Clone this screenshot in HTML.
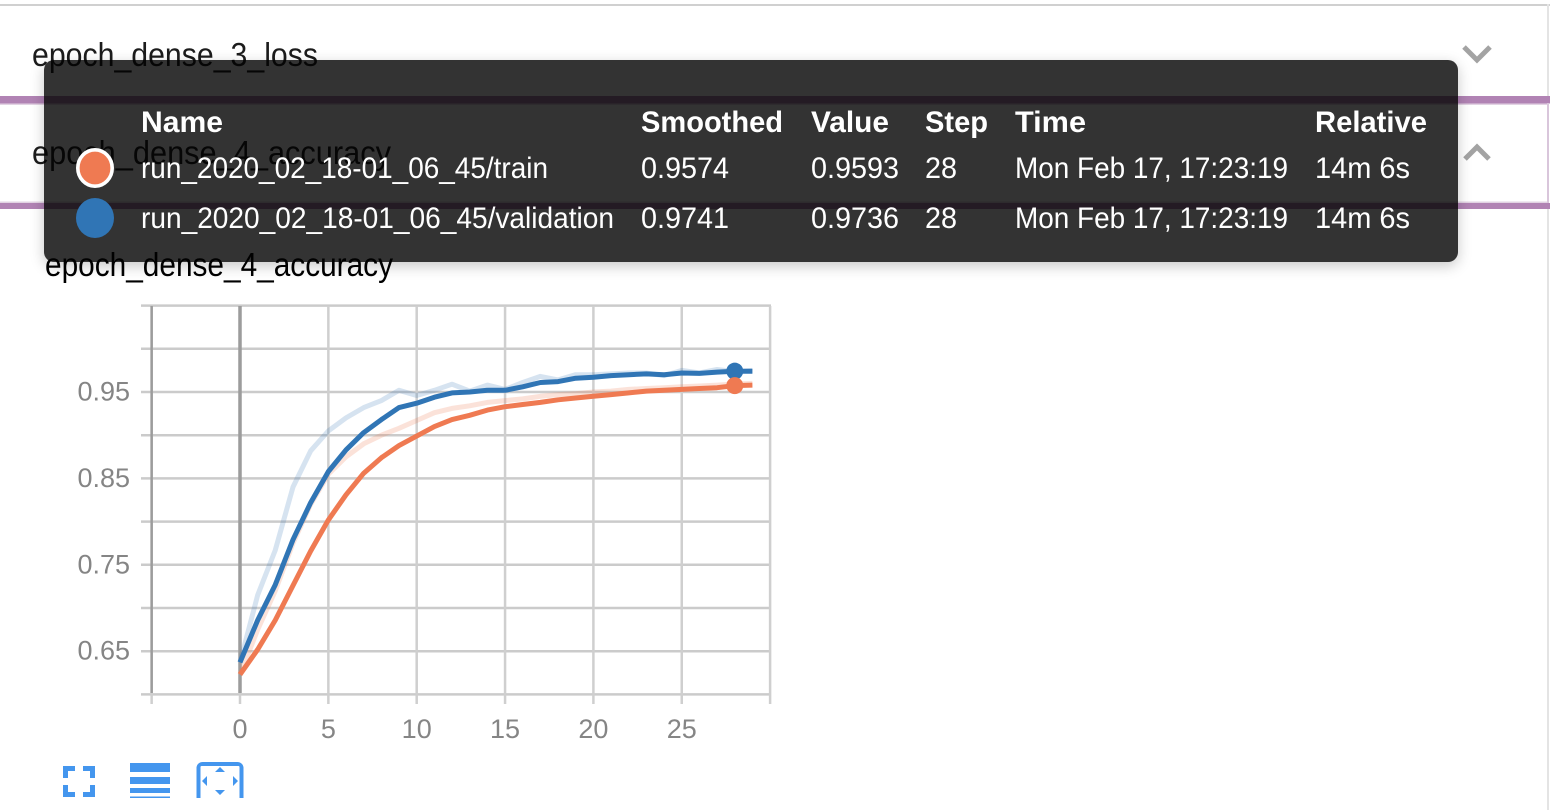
<!DOCTYPE html>
<html lang="en">
<head>
<meta charset="utf-8">
<title>epoch_dense_4_accuracy</title>
<style>
html,body{margin:0;padding:0;width:1550px;height:810px;background:#fff;overflow:hidden}
body{position:relative;font-family:"Liberation Sans",sans-serif}
svg{position:absolute;left:0;top:0;display:block}
#tooltip-bg{position:absolute;left:44px;top:60px;width:1414px;height:202px;border-radius:10px;background:#333;mix-blend-mode:multiply}
#tooltip-shadow{position:absolute;left:44px;top:60px;width:1414px;height:202px;border-radius:10px;box-shadow:0 4px 14px rgba(0,0,0,.22)}
</style>
</head>
<body>
<svg width="1550" height="810">
  <rect x="0" y="4" width="1550" height="2" fill="#d0d0d0"/>
  <rect x="1547" y="4" width="2" height="806" fill="#e4e4e4"/>
  <rect x="0" y="96" width="1550" height="7.500" fill="#b183b4"/>
  <rect x="0" y="203" width="1550" height="6" fill="#b183b4"/>
  <rect x="0" y="103.500" width="1547" height="1.500" fill="#e2d3e3"/>
  <rect x="0" y="201.500" width="1547" height="1.500" fill="#e2d3e3"/>
  <rect x="1547" y="103" width="2" height="100" fill="#d9c6db"/>
  <text x="32" y="66" font-size="33" fill="#1c1c1c" textLength="286" lengthAdjust="spacingAndGlyphs">epoch_dense_3_loss</text>
  <text x="32" y="164" font-size="33" fill="#1c1c1c" textLength="359" lengthAdjust="spacingAndGlyphs">epoch_dense_4_accuracy</text>
  <path d="M1464 47 L1477 60 L1490 47" fill="none" stroke="#a3a3a3" stroke-width="5"/>
  <path d="M1465 159 L1477 147 L1489 159" fill="none" stroke="#a3a3a3" stroke-width="5"/>
</svg>

<div id="tooltip-shadow"></div>
<div id="tooltip-bg"></div>

<svg width="1550" height="810" font-size="29.500" fill="#fff">
  <g font-weight="700">
    <text x="141" y="132" textLength="82" lengthAdjust="spacingAndGlyphs">Name</text>
    <text x="641" y="132" textLength="142" lengthAdjust="spacingAndGlyphs">Smoothed</text>
    <text x="811" y="132" textLength="78" lengthAdjust="spacingAndGlyphs">Value</text>
    <text x="925" y="132" textLength="63" lengthAdjust="spacingAndGlyphs">Step</text>
    <text x="1015" y="132" textLength="71" lengthAdjust="spacingAndGlyphs">Time</text>
    <text x="1315" y="132" textLength="112" lengthAdjust="spacingAndGlyphs">Relative</text>
  </g>
  <ellipse cx="95" cy="168" rx="17.200" ry="18.200" fill="#ef7a52" stroke="#fff" stroke-width="3.600"/>
  <g>
    <text x="141" y="178" textLength="407" lengthAdjust="spacingAndGlyphs">run_2020_02_18-01_06_45/train</text>
    <text x="641" y="178" textLength="88" lengthAdjust="spacingAndGlyphs">0.9574</text>
    <text x="811" y="178" textLength="88" lengthAdjust="spacingAndGlyphs">0.9593</text>
    <text x="925" y="178" textLength="32" lengthAdjust="spacingAndGlyphs">28</text>
    <text x="1015" y="178" textLength="273" lengthAdjust="spacingAndGlyphs">Mon Feb 17, 17:23:19</text>
    <text x="1315" y="178" textLength="95" lengthAdjust="spacingAndGlyphs">14m 6s</text>
  </g>
  <ellipse cx="95" cy="218" rx="19" ry="20" fill="#3075b5"/>
  <g>
    <text x="141" y="228" textLength="473" lengthAdjust="spacingAndGlyphs">run_2020_02_18-01_06_45/validation</text>
    <text x="641" y="228" textLength="88" lengthAdjust="spacingAndGlyphs">0.9741</text>
    <text x="811" y="228" textLength="88" lengthAdjust="spacingAndGlyphs">0.9736</text>
    <text x="925" y="228" textLength="32" lengthAdjust="spacingAndGlyphs">28</text>
    <text x="1015" y="228" textLength="273" lengthAdjust="spacingAndGlyphs">Mon Feb 17, 17:23:19</text>
    <text x="1315" y="228" textLength="95" lengthAdjust="spacingAndGlyphs">14m 6s</text>
  </g>
</svg>

<svg id="chart" width="1550" height="810">
  <text x="45" y="276" font-size="33" fill="#000" textLength="348" lengthAdjust="spacingAndGlyphs">epoch_dense_4_accuracy</text>
  <g id="grid"></g>
  <g id="axis-labels"></g>
  <g id="series"></g>
  <g fill="#4496ee">
    <path d="M63 766h12v5h-7v7h-5zM83 766h12v12h-5v-7h-7zM63 785h5v7h7v5h-12zM90 785h5v12h-12v-5h7z"/>
    <path d="M130 763h40v9h-40zM130 777h40v7h-40zM130 788h40v5h-40zM130 796.500h40v1.500h-40z"/>
    <g>
      <path d="M196.500 798v-30a6 6 0 0 1 6-6h35a6 6 0 0 1 6 6v30h-4v-31a1 1 0 0 0-1-1h-37a1 1 0 0 0-1 1v31z"/>
      <path d="M220 767l5 5h-10zM220 795l-5-5h10zM202 781l5-5v10zM238 781l-5-5v10z"/>
    </g>
  </g>
</svg>

<script>
var steps = [0,1,2,3,4,5,6,7,8,9,10,11,12,13,14,15,16,17,18,19,20,21,22,23,24,25,26,27,28,29];
var trainSmoothed = [0.623,0.652,0.686,0.726,0.766,0.802,0.831,0.856,0.874,0.888,0.899,0.910,0.918,0.923,0.929,0.933,0.9355,0.938,0.941,0.943,0.945,0.947,0.949,0.951,0.952,0.953,0.954,0.955,0.9574,0.958];
var trainRaw = [0.623,0.675,0.720,0.775,0.820,0.855,0.875,0.890,0.900,0.908,0.917,0.926,0.931,0.934,0.938,0.940,0.942,0.945,0.947,0.948,0.950,0.951,0.953,0.954,0.955,0.956,0.957,0.958,0.9593,0.960];
var validationSmoothed = [0.637,0.686,0.727,0.779,0.822,0.858,0.883,0.903,0.918,0.932,0.937,0.944,0.949,0.950,0.952,0.952,0.956,0.961,0.962,0.966,0.967,0.969,0.970,0.971,0.970,0.972,0.9715,0.973,0.9741,0.974];
var validationRaw = [0.637,0.715,0.767,0.840,0.882,0.905,0.920,0.932,0.940,0.952,0.946,0.952,0.959,0.951,0.958,0.953,0.961,0.968,0.964,0.970,0.970,0.971,0.972,0.972,0.969,0.975,0.972,0.976,0.9736,0.975];
var hoverStep = 28;
var xGridTicks = [-5,0,5,10,15,20,25,30];
var xTickLabels = ["0","5","10","15","20","25"];
var xLabelTicks = [0,5,10,15,20,25];
var yGridTicks = [0.60,0.65,0.70,0.75,0.80,0.85,0.90,0.95,1.00,1.05];
var yLabelTicks = [0.65,0.75,0.85,0.95];
var yTickLabels = ["0.65","0.75","0.85","0.95"];

function xScale(v){ return 240 + (v - 0) * 17.67; }
function yScale(v){ return 392 + (0.95 - v) * 864; }

var NS = 'http://www.w3.org/2000/svg';
function make(tag, parent, attrs){
  var el = document.createElementNS(NS, tag);
  for (var k in attrs) el.setAttribute(k, attrs[k]);
  parent.appendChild(el);
  return el;
}
var grid = document.getElementById('grid');
var labels = document.getElementById('axis-labels');
var series = document.getElementById('series');

yGridTicks.forEach(function(v){
  var el = make('line', grid, {x1:141, x2:771, y1:yScale(v), y2:yScale(v), stroke:'#cbcbcb', 'stroke-width':2.5});
  
  
});
xGridTicks.forEach(function(v){
  var isAxis = v === -5, isZero = v === 0;
  var el = make('line', grid, {x1:xScale(v), x2:xScale(v), y1:306, y2:704,
    stroke:'#cfcfcf', 'stroke-width':2.5});
  
  
  if (isAxis || isZero) {
    var ax = make('line', grid, {x1:xScale(v), x2:xScale(v), y1:306, y2:693,
      stroke:'#9c9c9c', 'stroke-width': isZero ? 3.5 : 2.5});
    
    
  }
});
yLabelTicks.forEach(function(v, i){
  var t = make('text', labels, {x:130, y:yScale(v)+8.5, 'text-anchor':'end', 'font-size':27, fill:'#858585'});
  
  
  t.textContent = yTickLabels[i];
});
xLabelTicks.forEach(function(v, i){
  var t = make('text', labels, {x:xScale(v), y:738, 'text-anchor':'middle', 'font-size':27, fill:'#858585'});
  
  
  t.textContent = xTickLabels[i];
});

function linePoints(values){
  return values.map(function(v, i){ return xScale(steps[i]).toFixed(1) + ',' + yScale(v).toFixed(1); }).join(' ');
}
var rawTrain = make('polyline', series, {points:linePoints(trainRaw), fill:'none', stroke:'#ef7a52', 'stroke-opacity':0.22, 'stroke-width':5, 'stroke-linejoin':'round'});


var rawVal = make('polyline', series, {points:linePoints(validationRaw), fill:'none', stroke:'#3075b5', 'stroke-opacity':0.2, 'stroke-width':5, 'stroke-linejoin':'round'});


var smoothTrain = make('polyline', series, {points:linePoints(trainSmoothed), fill:'none', stroke:'#ef7a52', 'stroke-width':5, 'stroke-linejoin':'round'});


var smoothVal = make('polyline', series, {points:linePoints(validationSmoothed), fill:'none', stroke:'#3075b5', 'stroke-width':5, 'stroke-linejoin':'round'});


var hi = steps.indexOf(hoverStep);
var dotVal = make('circle', series, {cx:xScale(hoverStep), cy:yScale(validationSmoothed[hi]), r:8.5, fill:'#3075b5'});


var dotTrain = make('circle', series, {cx:xScale(hoverStep), cy:yScale(trainSmoothed[hi]), r:8.5, fill:'#ef7a52'});


</script>
</body>
</html>
